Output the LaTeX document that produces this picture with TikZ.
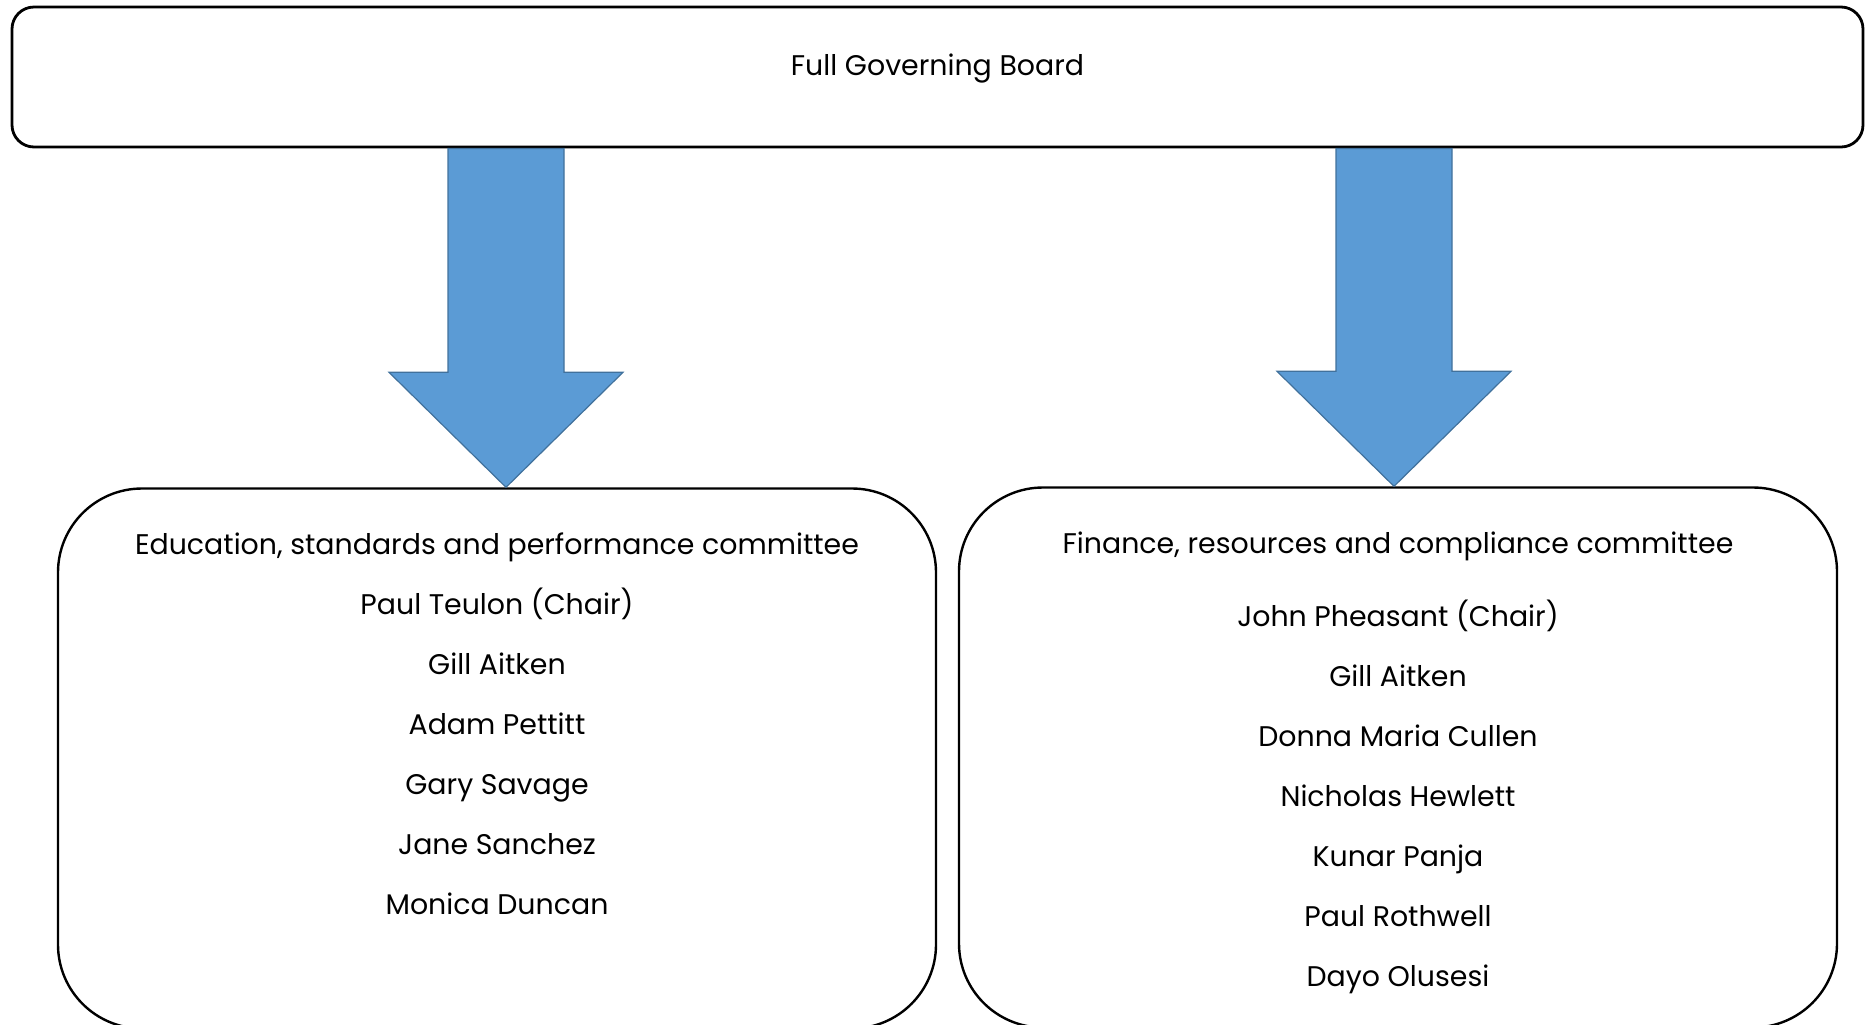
\documentclass[tikz,border=0pt]{standalone}
\usepackage{fontspec}
\setmainfont{Poppins}
\usetikzlibrary{positioning}
\usetikzlibrary{calc}
\definecolor{arrowblue}{HTML}{5B9BD5}
\definecolor{arrowedge}{HTML}{41719C}

\begin{document}
\begin{tikzpicture}[x=0.5pt,y=-0.5pt,node distance=30pt,
	board node/.style={draw,line width=1.4pt,rounded corners=11pt,minimum width=925.5pt,minimum height=70pt},
	committee node/.style={draw,line width=1.2pt,rounded corners=42pt,minimum width=439pt,minimum height=270pt},
	name node/.style={font=\fontsize{14.2}{16}\selectfont,text height=11pt,text depth=3pt,inner sep=0pt},
	big arrow/.style={fill=arrowblue,draw=arrowedge,line width=0.6pt,line join=miter}]
	
	\useasboundingbox (0,0) rectangle (1870,1024);
	
	\node[board node] (board) at (937.5,77) {};
	\node[name node] (boardtxt) at (937.5,67) {Full Governing Board};
	
	\node[committee node] (ed) at (497,758.5) {};
	\node[committee node] (fin) at (1398,757.5) {};
	
	% arrows from the board down to the committees
	\coordinate (edx) at (506,0);
	\coordinate (finx) at (1394,0);
	\draw[big arrow] ($(edx |- board.south)+(-58,0)$) -- ($(edx |- ed.north)+(-58,-115)$)
	-- ($(edx |- ed.north)+(-117,-115)$) -- (edx |- ed.north)
	-- ($(edx |- ed.north)+(117,-115)$) -- ($(edx |- ed.north)+(58,-115)$)
	-- ($(edx |- board.south)+(58,0)$) -- cycle;
	\draw[big arrow] ($(finx |- board.south)+(-58,0)$) -- ($(finx |- fin.north)+(-58,-115)$)
	-- ($(finx |- fin.north)+(-117,-115)$) -- (finx |- fin.north)
	-- ($(finx |- fin.north)+(117,-115)$) -- ($(finx |- fin.north)+(58,-115)$)
	-- ($(finx |- board.south)+(58,0)$) -- cycle;
	
	% education committee
	\node[name node] (edt) at (497,546) {Education, standards and performance committee};
	\node[name node] (ed1) [below of=edt] {Paul Teulon (Chair)};
	\node[name node] (ed2) [below of=ed1] {Gill Aitken};
	\node[name node] (ed3) [below of=ed2] {Adam Pettitt};
	\node[name node] (ed4) [below of=ed3] {Gary Savage};
	\node[name node] (ed5) [below of=ed4] {Jane Sanchez};
	\node[name node] (ed6) [below of=ed5] {Monica Duncan};
	
	% finance committee
	\node[name node] (fint) at (1398,545) {Finance, resources and compliance committee};
	\node[name node] (fin1) [below of=fint,yshift=-6.5pt] {John Pheasant (Chair)};
	\node[name node] (fin2) [below of=fin1] {Gill Aitken};
	\node[name node] (fin3) [below of=fin2] {Donna Maria Cullen};
	\node[name node] (fin4) [below of=fin3] {Nicholas Hewlett};
	\node[name node] (fin5) [below of=fin4] {Kunar Panja};
	\node[name node] (fin6) [below of=fin5] {Paul Rothwell};
	\node[name node] (fin7) [below of=fin6] {Dayo Olusesi};
\end{tikzpicture}
\end{document}
